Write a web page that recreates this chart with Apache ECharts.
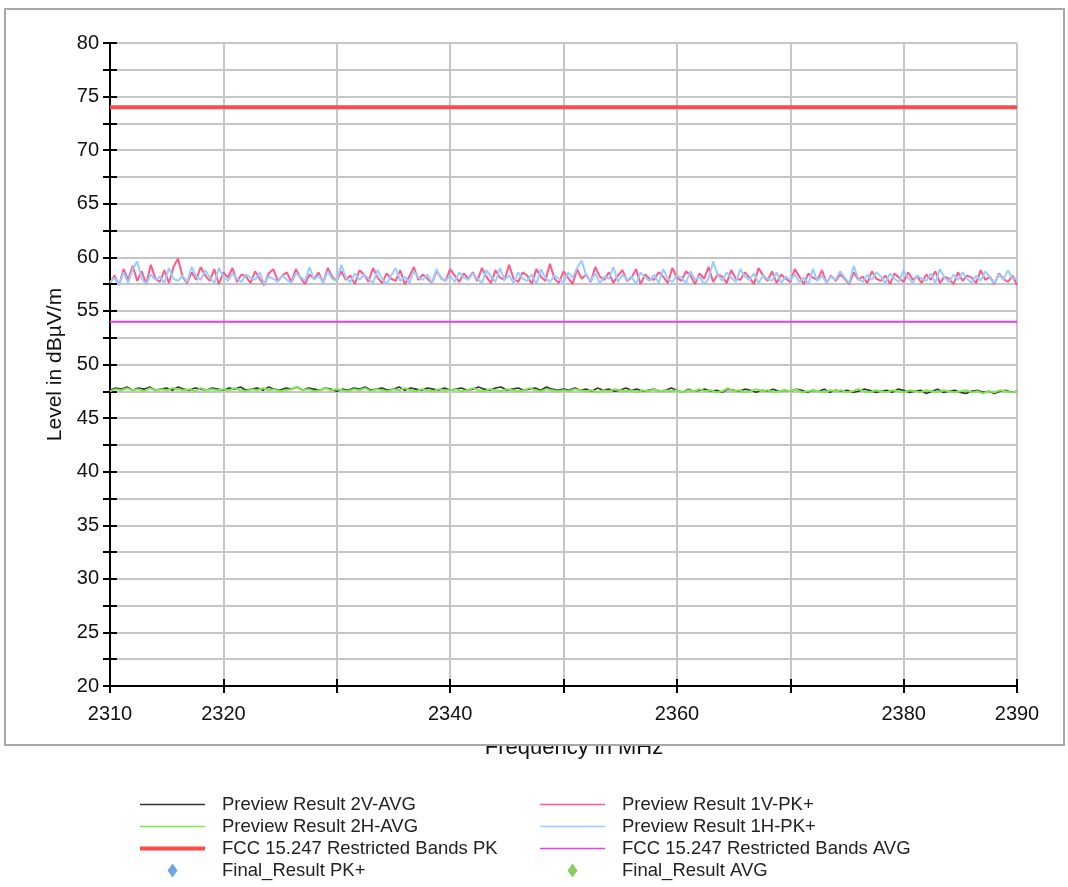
<!DOCTYPE html>
<html>
<head>
<meta charset="utf-8">
<script src="https://cdn.jsdelivr.net/npm/echarts@6/dist/echarts.min.js"></script>
<style>
html,body{margin:0;padding:0;background:#fff;}
#chart{width:1068px;height:887px;}
</style>
</head>
<body>
<div id="chart"></div>
<script>
// ---- data ----
const xAxisRange = [2310, 2390];
const xTickLabels = [2310, 2320, 2340, 2360, 2380, 2390];
const yAxisRange = [20, 80];
const pkStartMHz = 2310, pkStepMHz = 0.4;   // sweep grid of PK traces
const avgStartMHz = 2310, avgStepMHz = 0.5; // sweep grid of AVG traces

const preview1VPK = [
57.6,58.3,57.4,58.9,57.9,59.2,57.8,58.7,57.5,59.3,58.0,57.7,58.8,57.6,59.1,59.9,58.2,57.6,58.6,57.9,
59.1,58.3,57.8,58.9,57.5,58.6,58.1,59.0,57.7,58.4,58.2,57.6,58.7,58.0,57.4,58.5,58.9,57.8,58.3,58.6,
57.7,58.9,58.1,57.5,58.4,58.0,58.6,57.6,59.0,58.2,57.8,58.7,57.9,58.3,57.5,58.8,58.4,57.7,59.0,58.1,
57.6,58.5,58.0,57.8,58.8,57.5,58.2,59.1,57.9,58.4,58.0,57.6,58.7,58.1,57.8,58.9,58.3,57.7,58.5,58.0,
58.6,57.8,59.0,58.2,57.6,58.8,58.1,57.9,59.3,58.0,57.7,58.6,58.3,57.5,58.9,58.2,57.8,59.4,58.0,57.6,
58.7,58.1,57.5,58.9,58.0,58.4,57.7,59.1,58.2,57.9,58.6,57.6,58.3,58.8,57.8,58.1,58.9,57.5,58.4,58.0,
57.9,58.6,58.2,57.6,59.0,58.1,57.8,58.7,58.3,57.5,58.5,58.0,59.1,57.7,58.4,58.2,57.6,58.8,58.0,57.9,
58.6,58.1,57.5,59.0,58.3,57.8,58.7,57.6,58.4,58.0,57.7,58.9,58.2,57.5,58.5,58.1,57.9,58.8,57.6,58.3,
57.8,58.4,58.0,57.5,58.6,57.9,58.2,57.6,58.7,58.0,57.8,58.3,57.5,58.5,58.1,57.7,58.6,57.9,58.2,57.6,
58.4,57.9,58.7,57.6,58.2,58.0,57.5,58.6,57.8,58.3,58.1,57.6,58.8,57.9,58.2,57.5,58.5,58.0,57.7,58.3,
57.4];

const preview1HPK = [
57.7,58.1,57.4,58.6,57.6,58.9,59.6,58.0,57.5,58.4,57.9,58.2,57.6,59.0,58.0,57.8,58.3,57.7,59.1,58.2,
57.9,58.8,58.1,57.6,59.0,58.2,57.8,58.5,58.0,57.7,58.4,58.1,57.9,58.6,57.5,58.2,58.0,57.7,58.3,57.9,
57.6,58.5,58.2,57.8,59.1,57.9,58.3,57.6,58.7,58.0,57.8,59.3,58.1,57.7,58.5,57.9,58.4,58.0,57.6,58.8,
58.0,57.5,58.3,59.0,57.8,58.2,57.6,58.7,58.1,57.9,58.4,57.6,58.9,58.0,57.8,58.3,57.7,58.6,58.1,57.9,
58.5,58.0,57.6,58.8,58.2,57.7,59.0,57.9,58.3,57.6,58.6,58.0,57.8,58.4,57.5,58.9,58.1,57.7,58.3,58.0,
57.6,58.6,58.1,59.0,59.7,58.3,57.8,58.5,57.6,58.2,58.0,59.1,57.7,58.4,57.9,58.2,57.5,58.6,58.1,57.8,
58.4,57.6,58.9,58.0,57.7,58.3,58.1,57.6,58.7,57.9,58.2,57.5,58.0,59.6,58.4,57.8,58.6,58.1,57.7,58.9,
58.2,57.9,58.5,57.6,58.3,58.0,57.8,58.6,57.6,58.2,57.9,58.4,57.7,58.1,57.5,58.9,57.8,58.3,57.6,58.2,
57.9,58.7,58.1,57.6,59.2,58.0,57.7,58.4,57.9,58.6,58.2,57.6,58.5,58.0,57.7,58.8,58.1,57.6,58.3,58.0,
57.8,58.5,57.6,58.9,58.1,57.7,58.4,57.9,58.6,58.0,57.6,58.3,57.8,58.7,58.1,57.6,58.4,57.9,58.8,58.0,
58.1];

const preview2VAVG = [
47.6,47.8,47.7,47.9,47.6,47.8,47.7,47.9,47.6,47.7,47.8,47.6,47.9,47.7,47.6,47.8,47.7,47.6,47.8,47.7,
47.6,47.8,47.7,47.9,47.6,47.7,47.8,47.6,47.9,47.7,47.6,47.8,47.7,47.9,47.6,47.8,47.7,47.6,47.8,47.7,
47.5,47.7,47.6,47.8,47.7,47.9,47.6,47.7,47.8,47.6,47.7,47.9,47.6,47.8,47.7,47.6,47.8,47.7,47.6,47.8,
47.6,47.7,47.8,47.6,47.7,47.9,47.7,47.6,47.8,47.9,47.6,47.7,47.8,47.6,47.7,47.8,47.6,47.9,47.7,47.6,
47.7,47.6,47.8,47.6,47.7,47.5,47.8,47.6,47.7,47.5,47.6,47.8,47.6,47.7,47.5,47.6,47.7,47.5,47.6,47.8,
47.6,47.4,47.7,47.5,47.6,47.7,47.5,47.6,47.4,47.7,47.6,47.5,47.7,47.6,47.4,47.6,47.5,47.7,47.5,47.6,
47.5,47.7,47.6,47.4,47.6,47.5,47.7,47.4,47.6,47.5,47.6,47.4,47.5,47.7,47.6,47.4,47.5,47.6,47.4,47.7,
47.6,47.4,47.5,47.6,47.3,47.5,47.7,47.4,47.5,47.6,47.4,47.3,47.5,47.6,47.4,47.5,47.3,47.5,47.6,47.4,
47.5];

const preview2HAVG = [
47.5,47.7,47.6,47.8,47.6,47.7,47.5,47.8,47.6,47.7,47.6,47.8,47.7,47.6,47.7,47.5,47.8,47.6,47.7,47.6,
47.7,47.6,47.8,47.6,47.5,47.7,47.6,47.8,47.6,47.7,47.5,47.6,47.7,47.9,47.6,47.7,47.5,47.6,47.8,47.6,
47.7,47.6,47.5,47.7,47.6,47.8,47.5,47.7,47.6,47.5,47.7,47.6,47.8,47.6,47.5,47.7,47.6,47.5,47.7,47.6,
47.6,47.7,47.5,47.6,47.8,47.6,47.5,47.7,47.6,47.5,47.7,47.6,47.5,47.6,47.8,47.6,47.5,47.7,47.6,47.5,
47.6,47.5,47.7,47.6,47.5,47.6,47.4,47.6,47.5,47.7,47.6,47.5,47.6,47.4,47.6,47.5,47.7,47.5,47.6,47.5,
47.6,47.4,47.6,47.5,47.7,47.5,47.6,47.4,47.5,47.8,47.5,47.6,47.4,47.5,47.7,47.5,47.6,47.4,47.5,47.6,
47.5,47.7,47.4,47.5,47.6,47.5,47.4,47.6,47.5,47.6,47.4,47.5,47.7,47.5,47.4,47.6,47.5,47.4,47.6,47.5,
47.4,47.6,47.5,47.4,47.6,47.5,47.4,47.6,47.5,47.4,47.5,47.6,47.4,47.5,47.3,47.5,47.4,47.6,47.5,47.4,
47.5];

const limitPK = [74, 74];   // at xAxisRange ends
const limitAVG = [54, 54];
const finalResultPK = [];
const finalResultAVG = [];

// ---- build ----
function toPairs(start, step, arr) {
  return arr.map((v, i) => [+(start + i * step).toFixed(3), v]);
}
function limitPairs(arr) { return [[xAxisRange[0], arr[0]], [xAxisRange[1], arr[1]]]; }

const FONT = 'Liberation Sans, Arial, sans-serif';
const diamondPath = 'path://M5,0L10,7L5,14L0,7Z';
const thinLine = 'path://M0,0L65,0L65,1.6L0,1.6Z';
const thickLine = 'path://M0,0L65,0L65,4L0,4Z';

const chart = echarts.init(document.getElementById('chart'), null, {renderer: 'canvas'});

const legendCommon = {
  orient: 'vertical',
  top: 795,
  padding: 0,
  itemWidth: 65,
  itemHeight: 14,
  itemGap: 3,
  textStyle: {fontFamily: FONT, fontSize: 18.5, lineHeight: 18, color: '#222', padding: [0, 0, 0, 12]},
  selectedMode: false
};

chart.setOption({
  backgroundColor: '#ffffff',
  animation: false,
  grid: {left: 110, right: 51, top: 43, bottom: 201, containLabel: false},
  legend: [
    Object.assign({}, legendCommon, {left: 140, data: [
      {name: 'Preview Result 2V-AVG', icon: thinLine},
      {name: 'Preview Result 2H-AVG', icon: thinLine},
      {name: 'FCC 15.247 Restricted Bands PK', icon: thickLine},
      {name: 'Final_Result PK+', icon: diamondPath}
    ]}),
    Object.assign({}, legendCommon, {left: 540, data: [
      {name: 'Preview Result 1V-PK+', icon: thinLine},
      {name: 'Preview Result 1H-PK+', icon: thinLine},
      {name: 'FCC 15.247 Restricted Bands AVG', icon: thinLine},
      {name: 'Final_Result AVG', icon: diamondPath}
    ]})
  ],
  xAxis: [{
    type: 'value', min: xAxisRange[0], max: xAxisRange[1], interval: 10,
    axisLine: {show: true, onZero: false, lineStyle: {color: '#000', width: 2}},
    axisTick: {show: true, inside: false, length: 7, lineStyle: {color: '#000', width: 2}},
    axisLabel: {
      margin: 18, fontFamily: FONT, fontSize: 20, color: '#111',
      formatter: v => xTickLabels.indexOf(v) >= 0 ? String(v) : ''
    },
    splitLine: {show: true, lineStyle: {color: '#c6c6c6', width: 2}}
  }, {
    type: 'value', min: xAxisRange[0], max: xAxisRange[1], interval: 10, position: 'bottom',
    axisLine: {show: false, onZero: false},
    axisTick: {show: true, inside: true, length: 7, lineStyle: {color: '#000', width: 2}},
    axisLabel: {show: false}, splitLine: {show: false}
  }],
  yAxis: [{
    type: 'value', min: yAxisRange[0], max: yAxisRange[1], interval: 2.5,
    name: 'Level in dBµV/m', nameLocation: 'middle', nameGap: 44, nameRotate: 90,
    nameTextStyle: {fontFamily: FONT, fontSize: 21, color: '#111'},
    axisLine: {show: true, onZero: false, lineStyle: {color: '#000', width: 2}},
    axisTick: {show: true, inside: false, length: 7, lineStyle: {color: '#000', width: 2}},
    axisLabel: {
      margin: 11, fontFamily: FONT, fontSize: 20, color: '#111',
      formatter: v => (Math.abs(v % 5) < 1e-6) ? String(v) : ''
    },
    splitLine: {show: true, lineStyle: {color: '#c6c6c6', width: 2}}
  }, {
    type: 'value', min: yAxisRange[0], max: yAxisRange[1], interval: 2.5, position: 'left',
    axisLine: {show: false, onZero: false},
    axisTick: {show: true, inside: true, length: 7, lineStyle: {color: '#000', width: 2}},
    axisLabel: {show: false}, splitLine: {show: false}
  }],
  series: [
    {name: 'FCC 15.247 Restricted Bands PK', type: 'line', symbol: 'none', silent: true,
     data: limitPairs(limitPK), lineStyle: {color: '#ff4a4a', width: 4}, itemStyle: {color: '#ff4a4a'}},
    {name: 'FCC 15.247 Restricted Bands AVG', type: 'line', symbol: 'none', silent: true,
     data: limitPairs(limitAVG), lineStyle: {color: '#e040e8', width: 2}, itemStyle: {color: '#e040e8'}},
    {name: 'Preview Result 1V-PK+', type: 'line', symbol: 'none', silent: true,
     data: toPairs(pkStartMHz, pkStepMHz, preview1VPK), lineStyle: {color: '#ff5a8a', width: 2}, itemStyle: {color: '#ff5a8a'}},
    {name: 'Preview Result 1H-PK+', type: 'line', symbol: 'none', silent: true,
     data: toPairs(pkStartMHz, pkStepMHz, preview1HPK), lineStyle: {color: '#99ccff', width: 2}, itemStyle: {color: '#99ccff'}},
    {name: 'Preview Result 2V-AVG', type: 'line', symbol: 'none', silent: true,
     data: toPairs(avgStartMHz, avgStepMHz, preview2VAVG), lineStyle: {color: '#333333', width: 1.6}, itemStyle: {color: '#333333'}},
    {name: 'Preview Result 2H-AVG', type: 'line', symbol: 'none', silent: true,
     data: toPairs(avgStartMHz, avgStepMHz, preview2HAVG), lineStyle: {color: '#7fe84a', width: 2}, itemStyle: {color: '#7fe84a'}},
    {name: 'Final_Result PK+', type: 'scatter', symbol: 'diamond', data: finalResultPK, itemStyle: {color: '#4a90d9'}},
    {name: 'Final_Result AVG', type: 'scatter', symbol: 'diamond', data: finalResultAVG, itemStyle: {color: '#6cbf3a'}}
  ],
  graphic: [
    {type: 'text', z: 100, style: {text: 'Frequency in MHz', x: 574, y: 748, textAlign: 'center', textVerticalAlign: 'middle',
      font: '22px ' + FONT, fill: '#111'}},
    {type: 'rect', z: 101, shape: {x: 460, y: 728, width: 230, height: 17}, style: {fill: '#ffffff'}},
    {type: 'rect', z: 102, shape: {x: 5, y: 9, width: 1059, height: 736}, style: {fill: 'none', stroke: '#a8a8a8', lineWidth: 2}}
  ]
});
</script>
</body>
</html>
